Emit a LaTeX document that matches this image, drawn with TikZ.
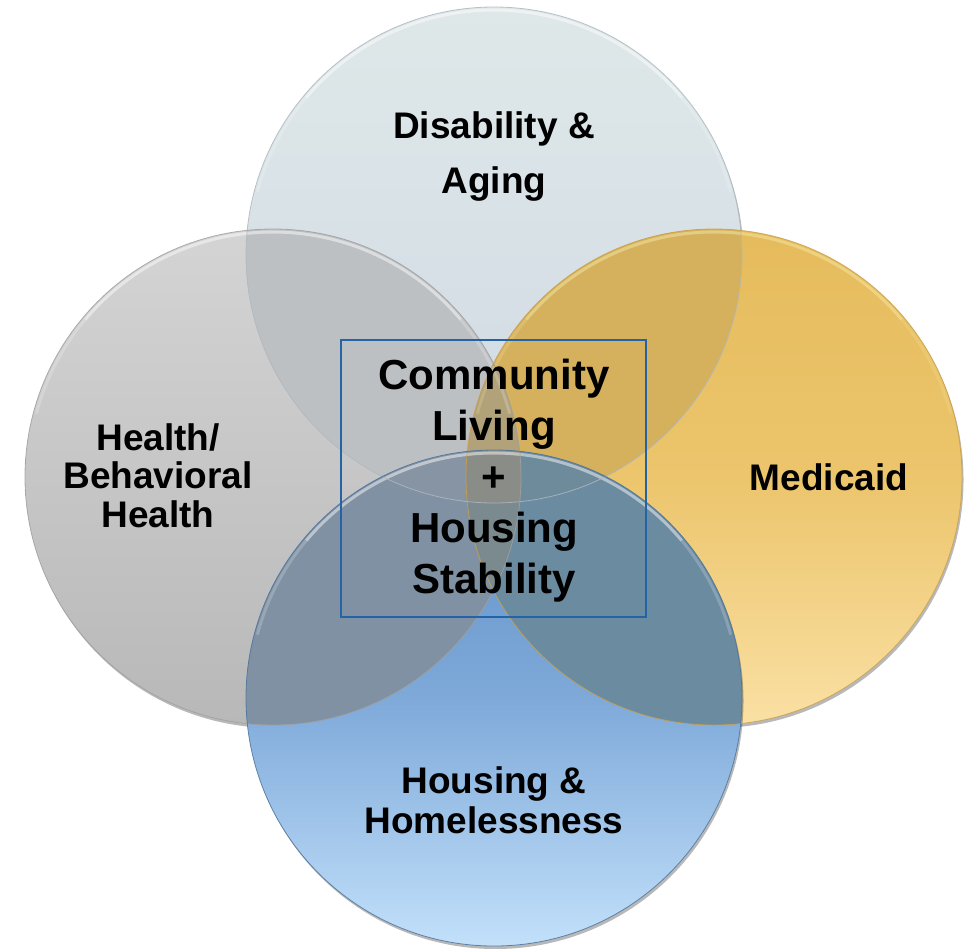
\documentclass[tikz,border=0pt]{standalone}
\usepackage{fontspec}
\setmainfont{Liberation Sans}
\usetikzlibrary{shadows}
\definecolor{tTop}{HTML}{DFE8E8}
\definecolor{tBot}{HTML}{D0D9E4}
\definecolor{lTop}{HTML}{D4D4D4}
\definecolor{lBot}{HTML}{B8B8B8}
\definecolor{rTop}{HTML}{E5BB5C}
\definecolor{rMid}{HTML}{ECC56C}
\definecolor{rBot}{HTML}{FAE0A4}
\definecolor{bTop}{HTML}{5E8EC4}
\definecolor{bMid}{HTML}{7EA9D9}
\definecolor{bBot}{HTML}{C2E0FA}
\definecolor{cTL}{HTML}{BDC0C3}
\definecolor{cTR}{HTML}{D5B15E}
\definecolor{cLB}{HTML}{8091A3}
\definecolor{cRB}{HTML}{6B8BA0}
\definecolor{cTLR}{HTML}{B2A27A}
\definecolor{cTLB}{HTML}{8794A3}
\definecolor{cTRB}{HTML}{6E8B9C}
\definecolor{cLRB}{HTML}{7B8A8F}
\definecolor{cAll}{HTML}{8A8D87}
\definecolor{eT}{HTML}{AEB8C0}
\definecolor{eL}{HTML}{A0A0A0}
\definecolor{eR}{HTML}{C9A04C}
\definecolor{eB}{HTML}{4F739C}
\definecolor{glossGold}{HTML}{F6EDA8}
\definecolor{boxblue}{HTML}{2463A5}
\newcommand\clipC[1]{\clip (#1.center) circle[radius=248pt];}
\newcommand\gloss[2]{%
  \draw[rim, #2, opacity=0.2] (#1.center) ++(165:245pt) arc[start angle=165, end angle=15, radius=245pt];
  \draw[rim, #2, opacity=0.35] (#1.center) ++(140:245pt) arc[start angle=140, end angle=40, radius=245pt];}
\tikzset{
  venn/.style={circle, minimum size=496pt, inner sep=0pt,
    drop shadow={shadow xshift=1.5pt, shadow yshift=-3pt, opacity=0.28, fill=black}},
  edge/.style={line width=0.8pt, opacity=0.85},
  rim/.style={line width=3pt},
  lbl/.style={inner sep=0pt, anchor=base, font=\bfseries\fontsize{37}{#1}\selectfont},
  biglbl/.style={inner sep=0pt, anchor=base, font=\bfseries\fontsize{42}{#1}\selectfont}
}
\newcommand\lines[1]{\begin{tabular}[b]{@{}c@{}}#1\end{tabular}}
\begin{document}
\begin{tikzpicture}[x=1pt,y=-1pt]
\useasboundingbox (0,0) rectangle (973,948);
% circles
\node[venn, top color=tTop, bottom color=tBot] (T) at (494,255) {};
\node[venn, top color=lTop, bottom color=lBot] (L) at (273,477) {};
\node[venn, top color=rTop, bottom color=rBot, middle color=rMid] (R) at (714,477) {};
\node[venn, top color=bTop, bottom color=bBot, middle color=bMid] (B) at (494,698) {};
% pair overlaps
\begin{scope}\clipC{T}\fill[cTL] (L.center) circle[radius=248pt];\end{scope}
\begin{scope}\clipC{T}\fill[cTR] (R.center) circle[radius=248pt];\end{scope}
\begin{scope}\clipC{L}\fill[cLB] (B.center) circle[radius=248pt];\end{scope}
\begin{scope}\clipC{R}\fill[cRB] (B.center) circle[radius=248pt];\end{scope}
% triple overlaps
\begin{scope}\clipC{T}\clipC{L}\fill[cTLR] (R.center) circle[radius=248pt];\end{scope}
\begin{scope}\clipC{T}\clipC{L}\fill[cTLB] (B.center) circle[radius=248pt];\end{scope}
\begin{scope}\clipC{T}\clipC{R}\fill[cTRB] (B.center) circle[radius=248pt];\end{scope}
\begin{scope}\clipC{L}\clipC{R}\fill[cLRB] (B.center) circle[radius=248pt];\end{scope}
% all four
\begin{scope}\clipC{T}\clipC{L}\clipC{R}\fill[cAll] (B.center) circle[radius=248pt];\end{scope}
% glossy rims
\gloss{T}{white}
\gloss{L}{white}
\gloss{R}{glossGold}
\gloss{B}{white}
% outlines
\draw[edge, eT] (T.center) circle[radius=248pt];
\draw[edge, eL] (L.center) circle[radius=248pt];
\draw[edge, eR] (R.center) circle[radius=248pt];
\draw[edge, eB] (B.center) circle[radius=248pt];
% central frame
\node[draw=boxblue, line width=1.3pt, minimum width=305pt, minimum height=277pt, inner sep=0pt, outer sep=0pt] (frame) at (493.5,478.5) {};
% labels
\node[lbl=55pt] (tT) at (494,193) {\lines{Disability \&\\Aging}};
\node[lbl=38.5pt] (tL) at (158,527) {\lines{Health/\\Behavioral\\Health}};
\node[lbl=40pt] (tR) at (829,490) {Medicaid};
\node[lbl=40pt] (tB) at (494,833) {\lines{Housing \&\\Homelessness}};
\node[biglbl=51pt] (tC) at (494,593) {\lines{Community\\Living\\+\\Housing\\Stability}};
\end{tikzpicture}
\end{document}
